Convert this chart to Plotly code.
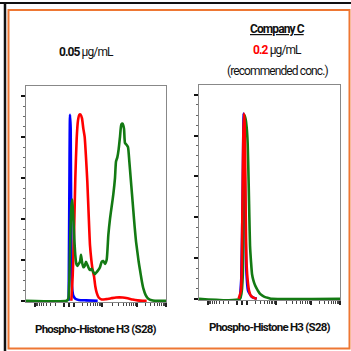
import math
import plotly.graph_objects as go
from plotly.subplots import make_subplots

# ---------------- data (x in display channels 0-420, y in relative counts) --------------
L_blue_x = [128, 130, 132, 134, 136, 138, 142, 148, 158, 180, 215]
L_blue_y = [0.0, 2.5, 4.54, 4.2, 1.2, 0.35, 0.12, 0.05, 0.02, 0.01, 0.0]

L_red_x = [136, 140, 144, 148, 152, 156, 160, 164, 168, 172, 176, 180, 184, 188, 192, 196,
           200, 204, 208, 212, 218, 227, 240, 255, 270, 290, 305, 320, 335, 350, 362]
L_red_y = [0.0, 0.6, 1.6, 3.0, 3.95, 4.4, 4.54, 4.54, 4.45, 4.2, 4.0, 3.5, 2.9, 2.1, 1.35,
           1.0, 0.75, 0.6, 0.35, 0.2, 0.08, 0.03, 0.04, 0.06, 0.08, 0.08, 0.06, 0.03, 0.01, 0.0, 0.0]

L_green_x = [0, 122, 127, 130, 133, 136, 139, 142, 145, 148, 151, 154, 158, 162, 165, 168,
             172, 176, 180, 184, 188, 192, 197, 202, 207, 212, 217, 222, 227, 232, 237, 242,
             247, 252, 257, 262, 267, 270, 274, 278, 282, 286, 290, 294, 297, 302, 306, 310,
             314, 318, 322, 326, 330, 334, 338, 342, 347, 352, 359, 367, 377, 387, 420]
L_green_y = [0.0, 0.0, 0.05, 0.5, 1.6, 2.3, 2.47, 2.0, 1.5, 1.1, 0.9, 0.85, 0.9, 0.95,
             1.12, 0.95, 0.82, 0.85, 0.95, 0.88, 0.8, 0.75, 0.78, 0.7, 0.65, 0.7, 0.75, 0.82,
             0.95, 0.97, 0.9, 1.0, 1.6, 2.0, 2.3, 2.6, 3.0, 3.4, 3.5, 3.7, 4.0, 4.3, 4.32,
             4.2, 3.85, 3.8, 3.75, 3.4, 3.0, 2.6, 2.2, 1.8, 1.45, 1.2, 0.95, 0.75, 0.5, 0.3,
             0.14, 0.05, 0.01, 0.0, 0.0]

R_blue_x = [122, 126, 130, 133, 135, 138, 141, 146, 157, 172]
R_blue_y = [0.0, 0.5, 2.5, 4.54, 4.0, 2.0, 0.7, 0.2, 0.05, 0.0]

R_red_x = [118, 125, 129, 132, 134, 136, 138, 140, 142, 145, 149, 154, 162, 172]
R_red_y = [0.0, 0.2, 2.0, 4.0, 4.54, 4.3, 3.0, 1.5, 0.8, 0.45, 0.2, 0.08, 0.03, 0.0]

R_green_x = [0, 122, 130, 133, 136, 139, 142, 145, 148, 150, 152, 155, 158, 162, 167, 172,
             177, 182, 190, 197, 207, 217, 422]
R_green_y = [0.0, 0.0, 0.5, 3.0, 4.5, 4.4, 4.2, 3.8, 2.8, 2.0, 1.3, 0.9, 0.6, 0.45, 0.33,
             0.25, 0.18, 0.12, 0.07, 0.04, 0.02, 0.0, 0.0]

title_left = "<b>0.05</b> μg/mL"
title_right_1 = "<b><u>Company C</u></b>"
title_right_2 = "<b><span style='color:#ff0000'>0.2</span></b> μg/mL"
title_right_3 = "(recommended conc.)"
x_label = "<b>Phospho-Histone H3 (S28)</b>"

# --------------- biexponential-like tick positions (display channels) ------------------
def neg_pos(v):
    return 129 - (15 + 87 * (math.log10(v) - 2))

def pos_pos(v):
    if v <= 1000:
        return 129 + 15 + 84 * (math.log10(v) - 2)
    if v <= 10000:
        return 228 + 105 * (math.log10(v) - 3)
    return 333 + 87 * (math.log10(v) - 4)

major_ticks = [neg_pos(1000), neg_pos(100), 129, pos_pos(100), pos_pos(1000), pos_pos(1e4), pos_pos(1e5)]
minor_ticks = []
for k in range(2, 10):
    minor_ticks.append(neg_pos(k * 100))
    minor_ticks.append(pos_pos(k * 100))
    minor_ticks.append(pos_pos(k * 1000))
    minor_ticks.append(pos_pos(k * 10000))

W = H = 351
fig = make_subplots(rows=1, cols=2)

def add(x, y, color, col):
    fig.add_trace(go.Scatter(x=x, y=y, mode="lines",
                             line=dict(color=color, width=2.6, shape="spline", smoothing=0.5),
                             showlegend=False, hoverinfo="skip"), row=1, col=col)

add(L_blue_x, L_blue_y, "#0000ff", 1)
add(L_red_x, L_red_y, "#ff0000", 1)
add(L_green_x, L_green_y, "#137a13", 1)
add(R_blue_x, R_blue_y, "#0000ff", 2)
add(R_green_x, R_green_y, "#137a13", 2)
add(R_red_x, R_red_y, "#ff0000", 2)

xd1 = [26 / W, 166 / W]
xd2 = [199 / W, 340 / W]
yd1 = [1 - 302 / H, 1 - 86 / H]
yd2 = [1 - 300 / H, 1 - 85 / H]

common_x = dict(range=[0, 420], showgrid=False, zeroline=False, showline=True,
                linecolor="#888888", linewidth=1, mirror=True,
                ticks="outside", ticklen=4, tickwidth=1.5, tickcolor="#222222",
                tickvals=major_ticks, showticklabels=False,
                minor=dict(tickvals=minor_ticks, ticks="outside", ticklen=2.5,
                           tickwidth=1, tickcolor="#444444"))
common_y = dict(range=[-0.03, 5.24], showgrid=False, zeroline=False, showline=True,
                linecolor="#888888", linewidth=1, mirror=True,
                ticks="outside", ticklen=4, tickwidth=2, tickcolor="#111111",
                tickvals=[0, 1, 2, 3, 4, 5], showticklabels=False,
                minor=dict(dtick=0.25, ticks="outside", ticklen=2, tickwidth=1,
                           tickcolor="#666666"))

fig.update_layout(
    width=W, height=H, margin=dict(l=0, r=0, t=0, b=0),
    paper_bgcolor="white", plot_bgcolor="white",
    xaxis=dict(domain=xd1, **common_x),
    xaxis2=dict(domain=xd2, **common_x),
    yaxis=dict(domain=yd1, **common_y),
    yaxis2=dict(domain=yd2, **common_y),
)

tfont = dict(family="Roboto, sans-serif", size=12, color="#111111")
lfont = dict(family="Roboto, sans-serif", size=11.5, color="#111111")

def ann(text, x, y, font, spacing):
    fig.add_annotation(text=f"<span style='letter-spacing:{spacing}px'>{text}</span>",
                       x=x / W, y=1 - y / H, xref="paper", yref="paper",
                       xanchor="center", yanchor="middle", showarrow=False, font=font)

ann(title_left, 86, 52, tfont, -0.9)
ann(title_right_1, 277, 29, tfont, -0.9)
ann(title_right_2, 277, 50, tfont, -0.9)
ann(title_right_3, 277, 71, tfont, -0.9)
ann(x_label, 96, 329, lfont, -0.75)
ann(x_label, 270, 327, lfont, -0.75)

# decorative frame lines
fig.add_shape(type="line", xref="paper", yref="paper", x0=0, x1=1, y0=1 - 3 / H, y1=1 - 3 / H,
              line=dict(color="#111111", width=2))
fig.add_shape(type="line", xref="paper", yref="paper", x0=5 / W, x1=5 / W, y0=0, y1=1 - 3 / H,
              line=dict(color="#111111", width=2.5))
fig.add_shape(type="rect", xref="paper", yref="paper", x0=8.5 / W, x1=349.5 / W,
              y0=1 - 348.5 / H, y1=1 - 10 / H, line=dict(color="#ee7733", width=2))

fig.write_html("out.html")
